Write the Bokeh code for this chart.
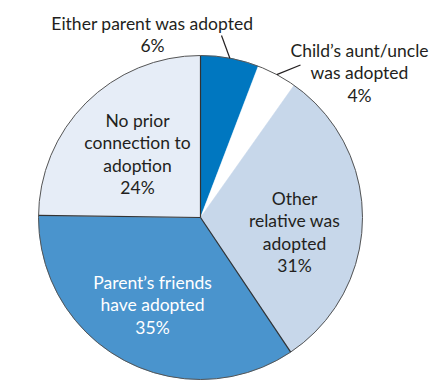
import numpy as np
from bokeh.plotting import figure
from bokeh.models import Range1d, ColumnDataSource
from bokeh.core.properties import value
from bokeh.embed import file_html
from bokeh.resources import INLINE

# ---- data (clockwise from 12 o'clock) ----
categories = ["Either parent was adopted", "Child’s aunt/uncle was adopted",
              "Other relative was adopted", "Parent’s friends have adopted",
              "No prior connection to adoption"]
shares = [5.8, 4.0, 30.8, 34.6, 24.8]
pct_labels = ["6%", "4%", "31%", "35%", "24%"]
label_lines = [["Either parent was adopted"],
               ["Child’s aunt/uncle", "was adopted"],
               ["Other", "relative was", "adopted"],
               ["Parent’s friends", "have adopted"],
               ["No prior", "connection to", "adoption"]]

# ---- style / layout ----
colors = ["#0077c0", "#ffffff", "#c7d7ea", "#4a94cd", "#e6edf7"]
text_colors = ["#231f20", "#231f20", "#231f20", "#ffffff", "#231f20"]
edge_bounds = [0, 3, 4]          # boundaries drawn with a dark rule
W, H = 440, 388
ORIGIN = 0                        # where the figure lands in the screenshot
PAGE_H = 390
def Y(py):
    return PAGE_H - py
CX, CY, R = 200, Y(217), 162
label_anchor = [(152, 23), (359, 50), (294, 198), (152, 282), (137, 120)]  # (center x, first baseline) in px
leader_end = {0: (221, 35), 1: (300, 64.5)}
LINE_H = 22.3
FONT = "Lato"
FS = "17.5px"

frac = np.array(shares) / sum(shares)
cum = np.concatenate([[0], np.cumsum(frac)])
ang = np.pi / 2 - 2 * np.pi * cum

p = figure(width=W, height=H, x_range=Range1d(ORIGIN, ORIGIN + W),
           y_range=Range1d(Y(ORIGIN + H), Y(ORIGIN)),
           output_backend="svg", toolbar_location=None, min_border=0)
p.axis.visible = False
p.grid.visible = False
p.outline_line_color = None
p.background_fill_color = "white"

src = ColumnDataSource(dict(cat=categories, start=ang[1:], end=ang[:-1], color=colors))
p.wedge(x=CX, y=CY, radius=R, start_angle="start", end_angle="end", direction="anticlock",
        fill_color="color", line_color="color", line_width=0.5, source=src)

# radial rules
xs = [[CX, CX + R * np.cos(ang[i])] for i in edge_bounds]
ys = [[CY, CY + R * np.sin(ang[i])] for i in edge_bounds]
p.multi_line(xs=xs, ys=ys, line_color="#333333", line_width=1.2)

# outer outline
p.circle(x=CX, y=CY, radius=R, fill_color=None, line_color="#555555", line_width=1)

# leader lines
for i, (ex, ey) in leader_end.items():
    mid = (ang[i] + ang[i + 1]) / 2
    p.line([CX + R * np.cos(mid), ex], [CY + R * np.sin(mid), Y(ey)], line_color="#231f20", line_width=1.2)

# labels
tx, ty, tt, tc = [], [], [], []
for i, lines in enumerate(label_lines):
    ax, ay = label_anchor[i]
    for k, s in enumerate(lines + [pct_labels[i]]):
        tx.append(ax)
        ty.append(Y(ay + k * LINE_H))
        tt.append(s)
        tc.append(text_colors[i])
p.text(x=tx, y=ty, text=tt, text_color=tc, text_align="center", text_baseline="alphabetic",
       text_font=value(FONT), text_font_size=FS)

open("out.html", "w").write(file_html(p, INLINE))
